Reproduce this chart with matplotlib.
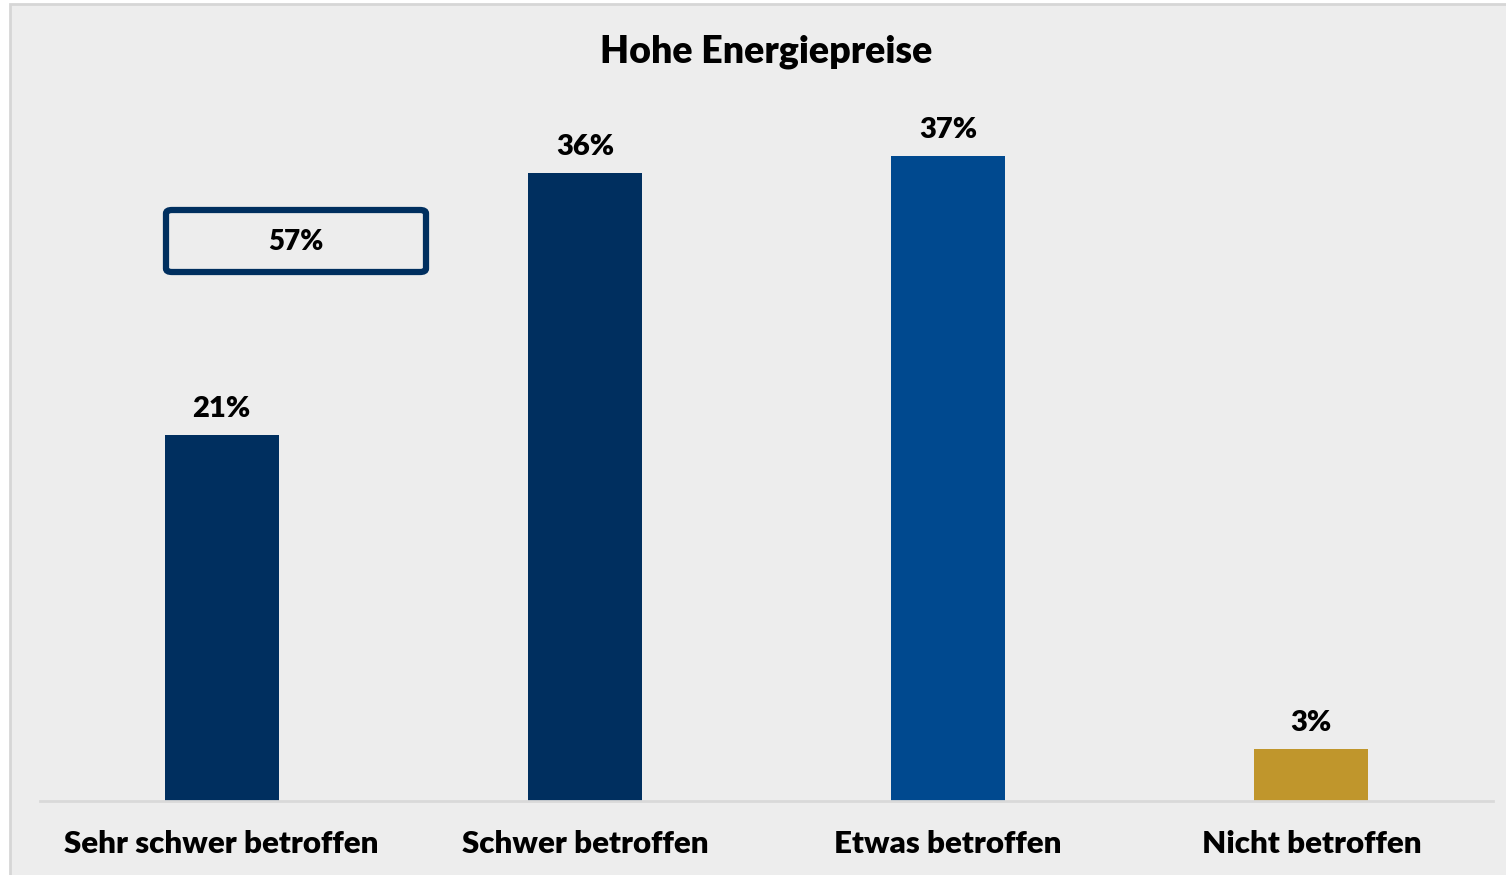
import matplotlib
matplotlib.use("Agg")
import matplotlib.pyplot as plt
from matplotlib.patches import Rectangle, FancyBboxPatch

categories = ["Sehr schwer betroffen", "Schwer betroffen", "Etwas betroffen", "Nicht betroffen"]
values = [21, 36, 37, 3]
bar_colors = ["#002F5F", "#002F5F", "#00498F", "#C0962C"]
title = "Hohe Energiepreise"
summary_label = "57%"

plt.rcParams['font.family'] = ['Lato', 'DejaVu Sans']
bg = "#EDEDED"
wt = "heavy"

W, H = 1506, 875
fig = plt.figure(figsize=(W / 100, H / 100), dpi=100)
fig.patch.set_facecolor("white")
# grey panel with thin border
fig.patches.append(Rectangle((10 / W, -0.01), 1.0, (H - 4) / H + 0.01, transform=fig.transFigure,
                             facecolor=bg, edgecolor="#D6D6D6", linewidth=2, zorder=-5))

ax = fig.add_axes([40 / W, 74 / H, 1453 / W, 696 / H])
ax.patch.set_alpha(0)
x = range(len(categories))
bars = ax.bar(x, values, width=0.314, color=bar_colors, zorder=2)
ax.set_xlim(-0.5, 3.5)
ax.set_ylim(0, 39.9)

for b, v in zip(bars, values):
    ax.text(b.get_x() + b.get_width() / 2, v + 0.75, f"{v}%", ha="center", va="bottom",
            fontsize=21, fontweight=wt, color="black")

for s in ["top", "right", "left"]:
    ax.spines[s].set_visible(False)
ax.spines["bottom"].set_color("#D9D9D9")
ax.spines["bottom"].set_linewidth(2)
ax.set_yticks([])
ax.set_xticks(list(x))
ax.set_xticklabels(categories, fontsize=22.5, fontweight=wt)
ax.tick_params(axis="x", length=0, pad=21)

# summary box over first bar
box = FancyBboxPatch((166 / W, 1 - 272 / H), 260 / W, 62 / H, transform=fig.transFigure,
                     boxstyle="round,pad=0,rounding_size=0.004", facecolor="none",
                     edgecolor="#002F5F", linewidth=4.5, zorder=3)
fig.patches.append(box)
fig.text(296 / W, 1 - 242 / H, summary_label, ha="center", va="center",
         fontsize=20, fontweight=wt)

fig.text(766 / W, 1 - 52 / H, title, ha="center", va="center", fontsize=27, fontweight=wt)

fig.savefig("out.png", dpi=100, facecolor=fig.get_facecolor())
